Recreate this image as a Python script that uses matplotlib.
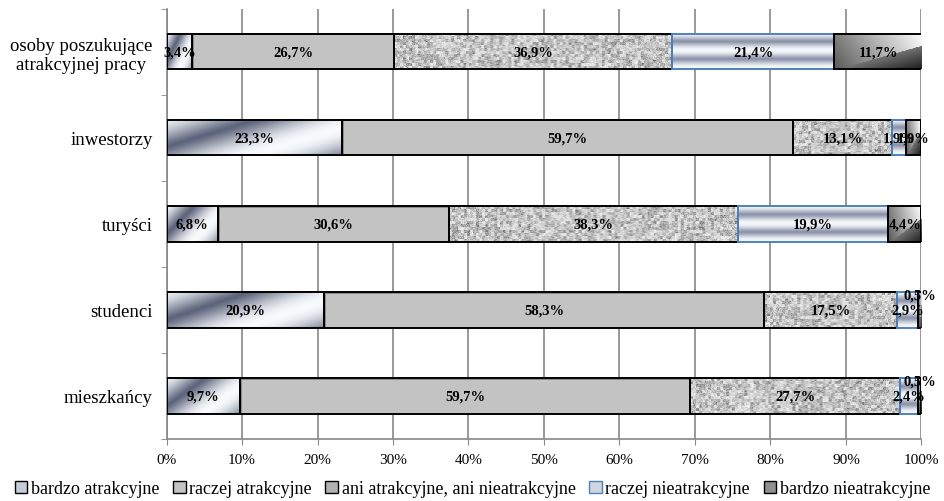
import numpy as np
import matplotlib
matplotlib.use("Agg")
import matplotlib.pyplot as plt
from matplotlib.patches import Rectangle

plt.rcParams['font.family'] = ['Liberation Serif', 'DejaVu Serif']

# groups, top to bottom
categories = ["osoby poszukujące\natrakcyjnej pracy", "inwestorzy", "turyści",
              "studenci", "mieszkańcy"]
series = ["bardzo atrakcyjne", "raczej atrakcyjne",
          "ani atrakcyjne, ani nieatrakcyjne", "raczej nieatrakcyjne",
          "bardzo nieatrakcyjne"]
bardzo_atr = [3.4, 23.3, 6.8, 20.9, 9.7]
raczej_atr = [26.7, 59.7, 30.6, 58.3, 59.7]
neutralne = [36.9, 13.1, 38.3, 17.5, 27.7]
raczej_nieatr = [21.4, 1.9, 19.9, 2.9, 2.4]
bardzo_nieatr = [11.7, 1.9, 4.4, 0.5, 0.5]
values = [bardzo_atr, raczej_atr, neutralne, raczej_nieatr, bardzo_nieatr]
xticks = list(range(0, 101, 10))

rng = np.random.default_rng(7)


def tex_metal_diag(nx, ny):
    u = np.linspace(0, 1, nx)[None, :]
    v = np.linspace(0, 1, ny)[:, None]
    t = 0.5 + 0.5 * np.cos(2 * np.pi * (1.3 * (u * 0.6 + v * 0.4) + 0.1))
    dark = np.array([0.36, 0.39, 0.48])
    light = np.array([0.97, 0.98, 0.99])
    return dark + (light - dark) * t[..., None] ** 0.6


def tex_flat(nx, ny):
    img = np.ones((ny, nx, 3)) * 0.765
    img[:2, :] = 0.55
    img[:, :2] = 0.55
    return img


def tex_granite(nx, ny):
    g = rng.random((ny // 3 + 1, nx // 3 + 1))
    g = np.kron(g, np.ones((3, 3)))[:ny, :nx]
    fine = rng.random((ny, nx))
    g = 0.35 + 0.62 * (0.6 * g + 0.4 * fine) ** 0.55
    return np.repeat(g[..., None], 3, axis=2)


def tex_metal_bands(nx, ny):
    v = np.linspace(0, 1, ny)[:, None] * np.ones((1, nx))
    t = 0.5 + 0.5 * np.cos(2 * np.pi * 2.0 * v + 0.3)
    dark = np.array([0.55, 0.58, 0.67])
    light = np.array([0.96, 0.97, 0.98])
    return dark + (light - dark) * t[..., None] ** 0.7


def tex_curl(nx, ny):
    u = np.linspace(0, 1, nx)[None, :]
    v = np.linspace(0, 1, ny)[:, None]
    t = 0.5 + 0.5 * u - 0.15 * v
    s = u * 0.7 + v
    curl = s > 1.05
    t = np.where(curl, 0.12 + 0.5 * np.clip(1.7 - s, 0, 1), t)
    t = np.clip(t, 0, 1)
    return np.repeat(t[..., None], 3, axis=2)


textures = [tex_metal_diag, tex_flat, tex_granite, tex_metal_bands, tex_curl]
edges = ["black", "black", "black", "#4f81bd", "black"]

fig = plt.figure(figsize=(9.45, 5.02), dpi=100)
ax = fig.add_axes([0.1762, 0.1235, 0.7989, 0.857])

y = np.arange(len(categories))
h = 0.41
px_per_unit = 7.55
left = np.zeros(len(categories))
for s, vals in enumerate(values):
    bars = ax.barh(y, vals, left=left, height=h, facecolor="none",
                   edgecolor=edges[s], linewidth=1.4, zorder=4, label=series[s])
    for i, (b, v) in enumerate(zip(bars, vals)):
        nx = max(int(v * px_per_unit), 2)
        ny = 36
        ax.imshow(textures[s](nx, ny), extent=(left[i], left[i] + v, y[i] + h / 2, y[i] - h / 2),
                  aspect="auto", interpolation="bilinear", zorder=3)
        lbl = f"{v:.1f}%".replace(".", ",")
        dy = -0.17 if v < 1 else 0
        ax.text(left[i] + v / 2, y[i] + dy, lbl, ha="center", va="center",
                fontsize=10.5, fontweight="bold", zorder=6)
    left += np.array(vals)

ax.set_xlim(0, 100)
ax.set_ylim(4.5, -0.5)
ax.set_xticks(xticks)
ax.set_xticklabels([f"{t}%" for t in xticks], fontsize=11)
ax.set_yticks(y)
ax.set_yticklabels(categories, fontsize=13.5, multialignment="center")
ax.set_yticks(np.arange(-0.5, 5, 1), minor=True)
ax.tick_params(axis="y", which="major", length=0, pad=10)
ax.tick_params(axis="y", which="minor", length=4, color="#888888")
ax.tick_params(axis="x", length=4, color="#888888", pad=6)
ax.grid(axis="x", color="#888888", linewidth=1.2, zorder=0)
ax.set_axisbelow(True)
for side in ["top", "right"]:
    ax.spines[side].set_visible(False)
for side in ["left", "bottom"]:
    ax.spines[side].set_color("#888888")
    ax.spines[side].set_linewidth(1.2)

# small swatches for the legend
handles = []
for s in range(len(series)):
    fc = ["#c8ccd8", "#c4c4c4", "#b0b0b0", "#d0d4e0", "#909090"][s]
    handles.append(Rectangle((0, 0), 1, 1, facecolor=fc, edgecolor=edges[s], linewidth=1.0))
fig.legend(handles, series, loc="lower center", bbox_to_anchor=(0.5, -0.025), ncol=5,
           frameon=False, fontsize=13, handlelength=0.7, handleheight=0.7,
           handletextpad=0.2, columnspacing=0.75)

fig.savefig("out.png", dpi=100)
